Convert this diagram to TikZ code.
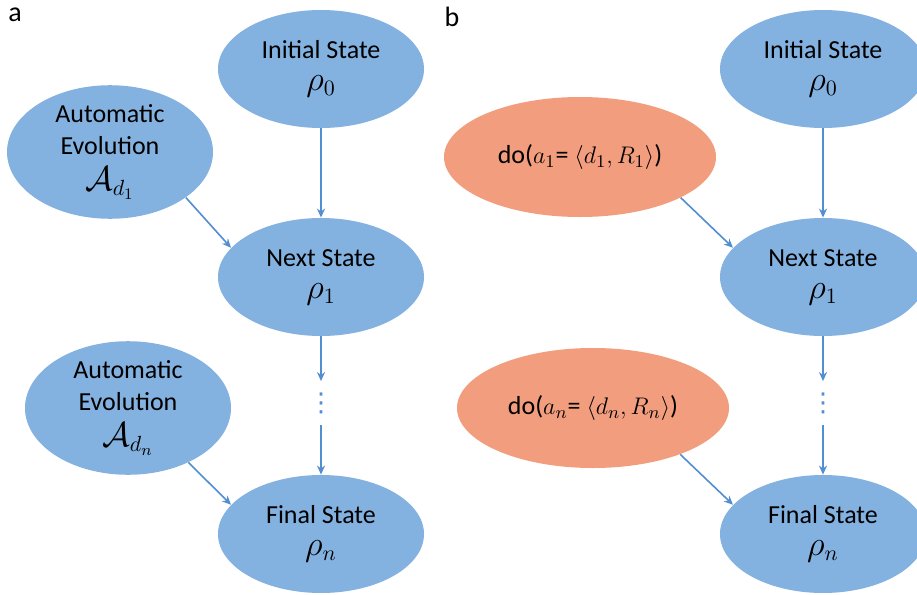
\documentclass[tikz,border=0pt]{standalone}
\usepackage{fontspec}
\setmainfont{Carlito}
\newfontfamily\dotsfont{DejaVu Sans}
\usetikzlibrary{shapes.geometric,arrows.meta}
\definecolor{stateblue}{RGB}{131,178,224}
\definecolor{actorange}{RGB}{241,157,126}
\definecolor{arrowblue}{RGB}{82,142,208}
\newcommand{\bigmath}[1]{{\fontsize{16}{18}\selectfont$#1$}}
\tikzset{
	state/.style={ellipse,fill=stateblue,minimum width=103pt,minimum height=59pt,inner sep=0pt,align=center,font=\fontsize{13}{16}\selectfont},
	act/.style={state,fill=actorange,minimum width=136pt,minimum height=60pt},
	gapdots/.style={inner sep=0pt,minimum height=21.5pt,text=arrowblue,font=\dotsfont\fontsize{13}{13}\selectfont},
	flow/.style={draw=arrowblue,line width=0.8pt,-{Stealth[length=4.5pt,width=4pt]}},
	panel/.style={font=\fontsize{14}{16}\selectfont}
}
\begin{document}
\begin{tikzpicture}[x=0.5pt,y=-0.5pt]
		\useasboundingbox[fill=white] (0,0) rectangle (917,595);
		
		% a
		\node[panel] (lbla) at (15,15) {a};
		\node[state] (init1) at (321,69) {Initial State\\\bigmath{\rho_0}};
		\node[state] (evol1) at (110,152) {Automatic\\Evolution\\[2pt]\bigmath{\mathcal{A}_{d_1}}};
		\node[state] (next1) at (321,277) {Next State\\\bigmath{\rho_1}};
		\node[state] (evoln) at (128,408) {Automatic\\Evolution\\[2pt]\bigmath{\mathcal{A}_{d_n}}};
		\node[gapdots] (gap1) at (321,403) {⋮};
		\node[state] (final1) at (321,534) {Final State\\\bigmath{\rho_n}};
		
		\draw[flow] (init1) -- (next1);
		\draw[flow] (evol1.-31) -- (next1.162);
		\draw[flow] (next1) -- (gap1);
		\draw[flow] (gap1) -- (final1);
		\draw[flow] (evoln.-42) -- (final1.162);
		
		% b
		\node[panel] (lblb) at (452,17) {b};
		\node[state] (init2) at (823,69) {Initial State\\\bigmath{\rho_0}};
		\node[act] (act1) at (580,157) {do($a_1$= $\langle d_1,R_1\rangle$)};
		\node[state] (next2) at (823,277) {Next State\\\bigmath{\rho_1}};
		\node[act] (actn) at (593,408) {do($a_n$= $\langle d_n,R_n\rangle$)};
		\node[gapdots] (gap2) at (823,403) {⋮};
		\node[state] (final2) at (823,534) {Final State\\\bigmath{\rho_n}};
		
		\draw[flow] (init2) -- (next2);
		\draw[flow] (act1.-22) -- (next2.162);
		\draw[flow] (next2) -- (gap2);
		\draw[flow] (gap2) -- (final2);
		\draw[flow] (actn.-28) -- (final2.162);
	\end{tikzpicture}
\end{document}
